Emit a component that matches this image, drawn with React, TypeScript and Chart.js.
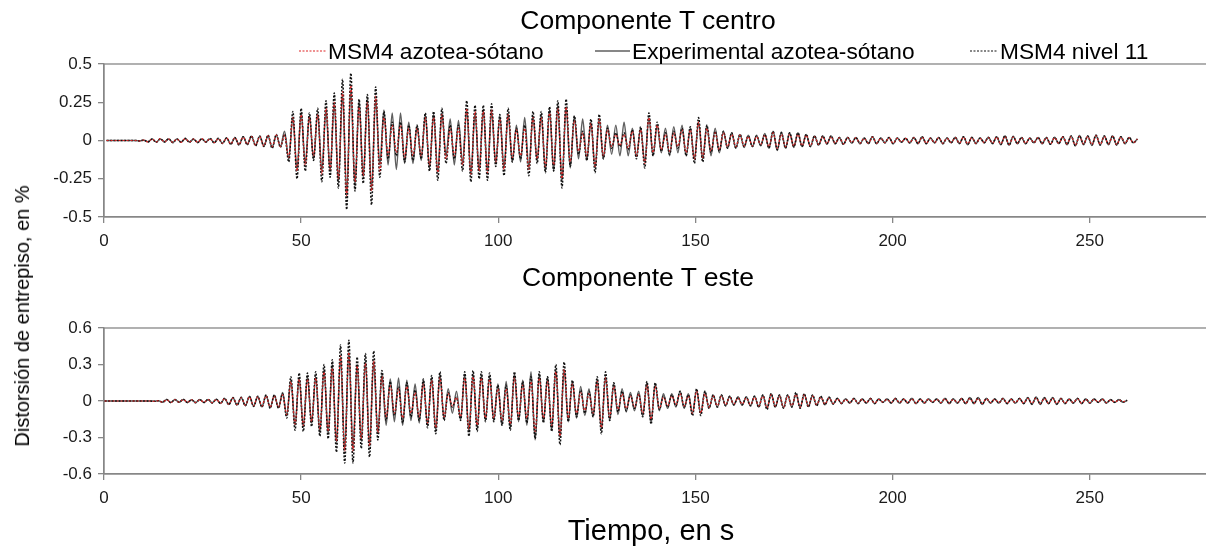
import React, { useEffect, useRef } from "react";
import { Chart, registerables } from "chart.js";

Chart.register(...registerables);

// ---------------- data ----------------
const SERIES_NAMES = ["MSM4 azotea-sótano", "Experimental azotea-sótano", "MSM4 nivel 11"];
const PANEL_TITLES = ["Componente T centro", "Componente T este"];
const X_TITLE = "Tiempo, en s";
const Y_TITLE = "Distorsión de entrepiso, en %";
const X_TICKS = [0, 50, 100, 150, 200, 250];
const TOP_Y_TICKS = [-0.5, -0.25, 0, 0.25, 0.5];
const BOTTOM_Y_TICKS = [-0.6, -0.3, 0, 0.3, 0.6];

// records are stored as successive extrema (half-cycle samples): start time and sample step, in s
const TOP_START_S = 0.65;
const BOTTOM_START_S = 0.15;
const SAMPLE_STEP_S = 1.05;

// ---- Componente T centro ----
const topMsm4Nivel11 = [
  0, 0, 0, 0, 0, 0, 0, 0, -0.003, 0.003,
  -0.01, 0.01, -0.012, 0.012, -0.01, 0.012, -0.014, 0.01, -0.012, 0.014, -0.012, 0.01, -0.014, 0.012, -0.01, 0.014, -0.016, 0.014,
  -0.02, 0.018, -0.025, 0.02, -0.03, 0.025, -0.028, 0.03, -0.035, 0.03, -0.04,
  0.035, -0.05, 0.04, -0.045, 0.04, -0.14, 0.19, -0.25, 0.21, -0.2, 0.18, -0.13, 0.21, -0.27, 0.26, -0.24, 0.31, -0.31, 0.4, -0.45, 0.44, -0.33, 0.27, -0.28, 0.3, -0.42, 0.35, -0.24,
  0.19, -0.12, 0.12, -0.1, 0.12, -0.14, 0.1, -0.13, 0.1, -0.12, 0.18, -0.2, 0.19, -0.26, 0.21, -0.15, 0.1, -0.12, 0.1, -0.2, 0.26, -0.27, 0.23, -0.25, 0.23, -0.26, 0.24, -0.17, 0.17, -0.23, 0.21, -0.14, 0.08,
  -0.12, 0.1, -0.23, 0.19, -0.15, 0.19, -0.21, 0.22, -0.2, 0.26, -0.31, 0.27, -0.17, 0.16, -0.09, 0.06, -0.13, 0.14, -0.21, 0.17,
  -0.12, 0.08, -0.05, 0.05, -0.04, 0.05, -0.06, 0.07, -0.12, 0.09, -0.18, 0.18, -0.1, 0.12, -0.07, 0.05, -0.09, 0.06, -0.05, 0.08,
  -0.1, 0.09, -0.15, 0.15, -0.14, 0.1, -0.08, 0.06, -0.07, 0.06, -0.05, 0.05, -0.05, 0.04, -0.04, 0.03, -0.04, 0.03, -0.03, 0.04,
  -0.05, 0.06, -0.06, 0.05, -0.05, 0.05, -0.04, 0.05, -0.04, 0.04, -0.04, 0.03, -0.03, 0.03, -0.02, 0.03,
  -0.02, 0.02, -0.025, 0.02, -0.015, 0.02, -0.02, 0.015, -0.02, 0.025, -0.02, 0.015, -0.015, 0.02, -0.02, 0.015, -0.01, 0.015, -0.015, 0.02,
  -0.02, 0.025, -0.02, 0.015, -0.015, 0.02, -0.02, 0.015, -0.015, 0.02, -0.02, 0.025, -0.025, 0.02, -0.02, 0.015, -0.015, 0.02, -0.02, 0.025,
  -0.025, 0.03, -0.03, 0.025, -0.02, 0.02, -0.02, 0.015, -0.015, 0.02, -0.02, 0.02, -0.025, 0.02, -0.02, 0.025, -0.025, 0.03, -0.035, 0.03,
  -0.025, 0.03, -0.03, 0.035, -0.03, 0.03, -0.025, 0.03, -0.03, 0.025, -0.02, 0.02, -0.015, 0.01,
];

const topMsm4Azotea = [
  0, 0, 0, 0, 0, 0, 0, 0, -0.003, 0.003,
  -0.01, 0.01, -0.01, 0.012, -0.01, 0.01, -0.012, 0.01, -0.012, 0.012, -0.01, 0.01, -0.012, 0.012, -0.01, 0.012, -0.014, 0.012,
  -0.018, 0.016, -0.022, 0.018, -0.026, 0.022, -0.025, 0.026, -0.03, 0.026, -0.035,
  0.03, -0.04, 0.035, -0.04, 0.035, -0.11, 0.15, -0.2, 0.17, -0.16, 0.15, -0.1, 0.17, -0.22, 0.21, -0.19, 0.25, -0.25, 0.32, -0.36, 0.36, -0.27, 0.22, -0.23, 0.25, -0.33, 0.29, -0.2,
  0.15, -0.1, 0.1, -0.08, 0.1, -0.11, 0.08, -0.1, 0.08, -0.1, 0.15, -0.16, 0.15, -0.21, 0.17, -0.12, 0.08, -0.1, 0.08, -0.16, 0.21, -0.22, 0.19, -0.2, 0.19, -0.21, 0.2, -0.14, 0.14, -0.19, 0.17, -0.11, 0.07,
  -0.1, 0.08, -0.19, 0.15, -0.12, 0.15, -0.17, 0.18, -0.16, 0.21, -0.25, 0.22, -0.14, 0.13, -0.07, 0.05, -0.1, 0.11, -0.17, 0.14,
  -0.1, 0.07, -0.04, 0.04, -0.035, 0.04, -0.05, 0.06, -0.1, 0.07, -0.15, 0.15, -0.08, 0.1, -0.06, 0.04, -0.07, 0.05, -0.04, 0.07,
  -0.08, 0.07, -0.12, 0.12, -0.11, 0.08, -0.07, 0.05, -0.06, 0.05, -0.04, 0.04, -0.04, 0.035, -0.035, 0.025, -0.035, 0.025, -0.025, 0.035,
  -0.04, 0.05, -0.05, 0.04, -0.04, 0.04, -0.035, 0.04, -0.035, 0.035, -0.035, 0.025, -0.025, 0.025, -0.02, 0.025,
  -0.018, 0.018, -0.022, 0.018, -0.014, 0.018, -0.018, 0.014, -0.018, 0.022, -0.018, 0.014, -0.014, 0.018, -0.018, 0.014, -0.01, 0.014, -0.014, 0.018,
  -0.018, 0.022, -0.018, 0.014, -0.014, 0.018, -0.018, 0.014, -0.014, 0.018, -0.018, 0.022, -0.022, 0.018, -0.018, 0.014, -0.014, 0.018, -0.018, 0.022,
  -0.022, 0.026, -0.026, 0.022, -0.018, 0.018, -0.018, 0.014, -0.014, 0.018, -0.018, 0.018, -0.022, 0.018, -0.018, 0.022, -0.022, 0.026, -0.03, 0.026,
  -0.022, 0.026, -0.026, 0.03, -0.026, 0.026, -0.022, 0.026, -0.026, 0.022, -0.018, 0.018, -0.014, 0.01,
];

const topExperimental = [
  0, 0, 0, 0, 0, 0, 0, 0, -0.002, 0.002,
  -0.008, 0.01, -0.01, 0.01, -0.008, 0.01, -0.012, 0.01, -0.01, 0.012, -0.01, 0.008, -0.012, 0.01, -0.01, 0.012, -0.014, 0.012,
  -0.018, 0.016, -0.024, 0.018, -0.028, 0.024, -0.026, 0.028, -0.032, 0.028, -0.036,
  0.03, -0.045, 0.035, -0.04, 0.06, -0.12, 0.15, -0.19, 0.18, -0.15, 0.16, -0.12, 0.18, -0.2, 0.2, -0.2, 0.24, -0.27, 0.3, -0.34, 0.33, -0.3, 0.26, -0.24, 0.27, -0.32, 0.27, -0.16,
  0.2, -0.16, 0.18, -0.19, 0.18, -0.15, 0.12, -0.15, 0.1, -0.13, 0.17, -0.18, 0.17, -0.21, 0.18, -0.1, 0.14, -0.16, 0.13, -0.15, 0.2, -0.22, 0.18, -0.2, 0.2, -0.2, 0.19, -0.15, 0.16, -0.18, 0.17, -0.14, 0.1,
  -0.14, 0.15, -0.18, 0.16, -0.13, 0.17, -0.2, 0.2, -0.2, 0.23, -0.27, 0.22, -0.18, 0.16, -0.12, 0.14, -0.13, 0.12, -0.18, 0.14,
  -0.12, 0.1, -0.09, 0.1, -0.1, 0.12, -0.1, 0.08, -0.1, 0.08, -0.14, 0.15, -0.1, 0.1, -0.08, 0.08, -0.1, 0.09, -0.08, 0.1,
  -0.1, 0.08, -0.12, 0.12, -0.12, 0.1, -0.1, 0.08, -0.08, 0.06, -0.05, 0.05, -0.05, 0.04, -0.045, 0.035, -0.04, 0.035, -0.035, 0.045,
  -0.05, 0.06, -0.065, 0.055, -0.05, 0.05, -0.045, 0.05, -0.04, 0.04, -0.04, 0.03, -0.03, 0.03, -0.025, 0.03,
  -0.022, 0.02, -0.025, 0.022, -0.018, 0.02, -0.022, 0.018, -0.02, 0.025, -0.022, 0.018, -0.015, 0.02, -0.022, 0.018, -0.012, 0.015, -0.018, 0.02,
  -0.022, 0.025, -0.022, 0.018, -0.015, 0.02, -0.022, 0.018, -0.015, 0.022, -0.02, 0.025, -0.028, 0.022, -0.02, 0.018, -0.015, 0.022, -0.02, 0.025,
  -0.028, 0.03, -0.03, 0.028, -0.022, 0.02, -0.022, 0.018, -0.015, 0.02, -0.022, 0.02, -0.025, 0.022, -0.02, 0.025, -0.028, 0.03, -0.035, 0.032,
  -0.028, 0.03, -0.032, 0.035, -0.03, 0.03, -0.028, 0.03, -0.03, 0.025, -0.022, 0.02, -0.015, 0.01,
];

// ---- Componente T este ----
const bottomMsm4Nivel11 = [
  0, 0, 0, 0, 0, 0, 0, 0, 0, 0, 0, 0, -0.003, 0.003,
  -0.01, 0.012, -0.014, 0.012, -0.01, 0.014, -0.012, 0.01, -0.014, 0.012, -0.012, 0.014, -0.016, 0.014,
  -0.02, 0.022, -0.03, 0.028, -0.035, 0.03, -0.04, 0.038, -0.045, 0.04, -0.05,
  0.05, -0.06, 0.05, -0.06, 0.06,
  -0.14, 0.2, -0.24, 0.23, -0.25, 0.23, -0.21, 0.24, -0.29, 0.3, -0.31, 0.34, -0.42, 0.46, -0.51, 0.5, -0.51, 0.36, -0.39, 0.39, -0.46, 0.41, -0.32, 0.25, -0.16, 0.16, -0.12, 0.12, -0.18, 0.15, -0.13,
  0.09, -0.16, 0.18, -0.22, 0.21, -0.27, 0.24, -0.16, 0.07, -0.05, 0.03, -0.16, 0.24, -0.29, 0.25, -0.25, 0.24, -0.17, 0.23, -0.17, 0.13,
  -0.2, 0.13, -0.24, 0.24, -0.16, 0.16, -0.18, 0.2, -0.31, 0.24,
  -0.18, 0.2, -0.25, 0.3, -0.36, 0.32, -0.17, 0.17, -0.13, 0.09,
  -0.1, 0.08, -0.13, 0.2, -0.27, 0.24, -0.16, 0.15, -0.09, 0.08,
  -0.08, 0.05, -0.06, 0.06, -0.13, 0.16, -0.19, 0.15, -0.07, 0.04,
  -0.05, 0.05, -0.04, 0.08, -0.05, 0.05, -0.12, 0.1, -0.12, 0.08,
  -0.06, 0.05, -0.05, 0.05, -0.04, 0.04, -0.03, 0.03, -0.03, 0.03,
  -0.04, 0.04, -0.05, 0.05, -0.07, 0.06, -0.05, 0.05, -0.06, 0.05,
  -0.05, 0.07, -0.06, 0.06, -0.05, 0.05, -0.04, 0.04,
  -0.03, 0.03, -0.025, 0.02, -0.02, 0.015, -0.015, 0.02, -0.02, 0.015,
  -0.015, 0.02, -0.02, 0.015, -0.01, 0.015, -0.015, 0.02, -0.015, 0.015,
  -0.015, 0.02, -0.02, 0.015, -0.015, 0.015, -0.01, 0.015, -0.015, 0.02,
  -0.02, 0.015, -0.015, 0.02, -0.02, 0.025, -0.02, 0.025, -0.025, 0.02,
  -0.015, 0.015, -0.015, 0.02, -0.02, 0.015, -0.015, 0.02, -0.02, 0.025,
  -0.025, 0.03, -0.025, 0.025, -0.02, 0.025, -0.025, 0.02, -0.02, 0.015,
  -0.015, 0.02, -0.02, 0.015, -0.015, 0.015, -0.01, 0.015, -0.015, 0.01,
  -0.01, 0.01, -0.008, 0.005,
];

const bottomMsm4Azotea = [
  0, 0, 0, 0, 0, 0, 0, 0, 0, 0, 0, 0, -0.003, 0.003,
  -0.01, 0.01, -0.012, 0.01, -0.01, 0.012, -0.01, 0.01, -0.012, 0.01, -0.01, 0.012, -0.014, 0.012,
  -0.018, 0.02, -0.026, 0.024, -0.03, 0.026, -0.034, 0.032, -0.038, 0.034, -0.042,
  0.042, -0.05, 0.042, -0.05, 0.05,
  -0.11, 0.16, -0.19, 0.18, -0.2, 0.18, -0.17, 0.19, -0.23, 0.24, -0.25, 0.27, -0.33, 0.37, -0.41, 0.4, -0.41, 0.29, -0.31, 0.31, -0.37, 0.33, -0.26, 0.2, -0.13, 0.13, -0.1, 0.1, -0.14, 0.12, -0.1,
  0.07, -0.13, 0.14, -0.18, 0.17, -0.22, 0.19, -0.13, 0.06, -0.04, 0.03, -0.13, 0.19, -0.23, 0.2, -0.2, 0.19, -0.14, 0.18, -0.14, 0.1,
  -0.16, 0.1, -0.19, 0.19, -0.13, 0.13, -0.14, 0.16, -0.25, 0.19,
  -0.14, 0.16, -0.2, 0.24, -0.29, 0.26, -0.14, 0.14, -0.1, 0.07,
  -0.08, 0.06, -0.1, 0.16, -0.22, 0.19, -0.13, 0.12, -0.07, 0.06,
  -0.06, 0.04, -0.05, 0.05, -0.1, 0.13, -0.15, 0.12, -0.06, 0.03,
  -0.04, 0.04, -0.03, 0.06, -0.04, 0.04, -0.1, 0.08, -0.1, 0.06,
  -0.05, 0.04, -0.04, 0.04, -0.03, 0.03, -0.025, 0.025, -0.025, 0.025,
  -0.03, 0.03, -0.04, 0.04, -0.055, 0.05, -0.04, 0.04, -0.05, 0.04,
  -0.04, 0.055, -0.05, 0.05, -0.04, 0.04, -0.03, 0.03,
  -0.025, 0.025, -0.02, 0.018, -0.018, 0.013, -0.013, 0.018, -0.018, 0.013,
  -0.013, 0.018, -0.018, 0.013, -0.008, 0.013, -0.013, 0.018, -0.013, 0.013,
  -0.013, 0.018, -0.018, 0.013, -0.013, 0.013, -0.008, 0.013, -0.013, 0.018,
  -0.018, 0.013, -0.013, 0.018, -0.018, 0.02, -0.018, 0.02, -0.02, 0.018,
  -0.013, 0.013, -0.013, 0.018, -0.018, 0.013, -0.013, 0.018, -0.018, 0.02,
  -0.02, 0.025, -0.02, 0.02, -0.018, 0.02, -0.02, 0.018, -0.018, 0.013,
  -0.013, 0.018, -0.018, 0.013, -0.013, 0.013, -0.008, 0.013, -0.013, 0.008,
  -0.008, 0.008, -0.006, 0.004,
];

const bottomExperimental = [
  0, 0, 0, 0, 0, 0, 0, 0, 0, 0, 0, 0, -0.002, 0.002,
  -0.01, 0.012, -0.012, 0.012, -0.01, 0.012, -0.012, 0.01, -0.012, 0.012, -0.012, 0.012, -0.015, 0.014,
  -0.02, 0.02, -0.028, 0.026, -0.032, 0.028, -0.038, 0.036, -0.042, 0.038, -0.048,
  0.048, -0.055, 0.048, -0.055, 0.07,
  -0.12, 0.17, -0.2, 0.19, -0.21, 0.2, -0.18, 0.2, -0.26, 0.26, -0.27, 0.3, -0.34, 0.36, -0.4, 0.4, -0.38, 0.3, -0.33, 0.33, -0.36, 0.32, -0.26, 0.22, -0.2, 0.18, -0.17, 0.19, -0.2, 0.17, -0.16,
  0.14, -0.18, 0.17, -0.2, 0.19, -0.24, 0.22, -0.15, 0.1, -0.1, 0.08, -0.15, 0.22, -0.25, 0.22, -0.22, 0.21, -0.16, 0.2, -0.16, 0.14,
  -0.2, 0.16, -0.22, 0.22, -0.17, 0.17, -0.2, 0.24, -0.32, 0.22,
  -0.17, 0.2, -0.24, 0.26, -0.3, 0.26, -0.17, 0.16, -0.14, 0.12,
  -0.12, 0.1, -0.13, 0.18, -0.23, 0.2, -0.16, 0.14, -0.11, 0.1,
  -0.09, 0.07, -0.08, 0.08, -0.12, 0.15, -0.17, 0.14, -0.08, 0.06,
  -0.06, 0.06, -0.05, 0.08, -0.06, 0.06, -0.1, 0.09, -0.1, 0.08,
  -0.06, 0.05, -0.05, 0.05, -0.04, 0.04, -0.035, 0.035, -0.035, 0.035,
  -0.04, 0.04, -0.05, 0.05, -0.06, 0.06, -0.05, 0.05, -0.055, 0.05,
  -0.05, 0.06, -0.055, 0.055, -0.045, 0.045, -0.035, 0.035,
  -0.03, 0.03, -0.025, 0.022, -0.022, 0.018, -0.018, 0.022, -0.022, 0.018,
  -0.018, 0.022, -0.022, 0.018, -0.012, 0.018, -0.018, 0.022, -0.018, 0.018,
  -0.018, 0.022, -0.022, 0.018, -0.018, 0.018, -0.012, 0.018, -0.018, 0.022,
  -0.022, 0.018, -0.018, 0.022, -0.022, 0.028, -0.022, 0.028, -0.028, 0.022,
  -0.018, 0.018, -0.018, 0.022, -0.022, 0.018, -0.018, 0.022, -0.022, 0.028,
  -0.028, 0.032, -0.028, 0.028, -0.022, 0.028, -0.028, 0.022, -0.022, 0.018,
  -0.018, 0.022, -0.022, 0.018, -0.018, 0.018, -0.012, 0.018, -0.018, 0.012,
  -0.012, 0.012, -0.01, 0.006,
];

// ---------------- styles ----------------
const FONT = "'Liberation Sans', Arial, sans-serif";
const AXIS_GRAY = "#878787";
const RED = "rgb(222, 36, 36)";
const EXP_GRAY = "#5f5f5f";
const BLACK = "#111111";

const toPoints = (vals: number[], start: number) =>
  vals.map((y, i) => ({ x: start + i * SAMPLE_STEP_S, y }));

const framePlugin = {
  id: "frame",
  beforeDatasetsDraw(chart: any) {
    const { ctx, chartArea: a } = chart;
    ctx.save();
    ctx.strokeStyle = AXIS_GRAY;
    ctx.lineWidth = 1.3;
    ctx.strokeRect(a.left, a.top, a.right - a.left, a.bottom - a.top);
    ctx.restore();
  },
};

function buildConfig(
  red: number[],
  exp: number[],
  black: number[],
  start: number,
  yTicks: number[],
  padding: any,
  xHeight: number
): any {
  const yMin = yTicks[0];
  const yMax = yTicks[yTicks.length - 1];
  return {
    type: "line",
    data: {
      datasets: [
        {
          label: SERIES_NAMES[0],
          data: toPoints(red, start),
          borderColor: RED,
          borderWidth: 1.1,
          borderDash: [2, 2],
          pointRadius: 0,
          cubicInterpolationMode: "monotone",
          fill: false,
        },
        {
          label: SERIES_NAMES[2],
          data: toPoints(black, start),
          borderColor: BLACK,
          borderWidth: 1.5,
          borderDash: [2, 1.5],
          pointRadius: 0,
          cubicInterpolationMode: "monotone",
          fill: false,
        },
        {
          label: SERIES_NAMES[1],
          data: toPoints(exp, start),
          borderColor: EXP_GRAY,
          borderWidth: 1.5,
          pointRadius: 0,
          cubicInterpolationMode: "monotone",
          fill: false,
        },
      ],
    },
    options: {
      responsive: false,
      animation: false,
      events: [],
      layout: { padding },
      plugins: {
        legend: { display: false },
        tooltip: { enabled: false },
        title: { display: false },
      },
      scales: {
        x: {
          type: "linear",
          min: 0,
          max: 280,
          afterBuildTicks: (scale: any) => {
            scale.ticks = X_TICKS.map((v) => ({ value: v }));
          },
          afterFit: (scale: any) => {
            scale.height = xHeight;
          },
          grid: {
            drawOnChartArea: false,
            drawTicks: true,
            tickLength: 6,
            color: AXIS_GRAY,
            lineWidth: 1.3,
          },
          border: { display: true, color: AXIS_GRAY, width: 1.3 },
          ticks: {
            padding: 8,
            color: "#1a1a1a",
            font: { family: FONT, size: 17 },
            maxRotation: 0,
            autoSkip: false,
            callback: (v: any) => String(v),
          },
        },
        y: {
          type: "linear",
          min: yMin,
          max: yMax,
          afterBuildTicks: (scale: any) => {
            scale.ticks = yTicks.map((v) => ({ value: v }));
          },
          afterFit: (scale: any) => {
            scale.width = 104;
          },
          grid: {
            drawOnChartArea: false,
            drawTicks: true,
            tickLength: 6,
            color: AXIS_GRAY,
            lineWidth: 1.3,
          },
          border: { display: true, color: AXIS_GRAY, width: 1.3 },
          ticks: {
            padding: 6,
            color: "#1a1a1a",
            font: { family: FONT, size: 17 },
            autoSkip: false,
            callback: (v: any) => String(v),
          },
        },
      },
    },
    plugins: [framePlugin],
  };
}

const CANVAS_W = 1240;

function Panel(props: {
  top: number;
  height: number;
  red: number[];
  exp: number[];
  black: number[];
  start: number;
  yTicks: number[];
  padding: any;
  xHeight: number;
}) {
  const ref = useRef<HTMLCanvasElement | null>(null);
  useEffect(() => {
    if (!ref.current) return;
    const chart = new Chart(
      ref.current,
      buildConfig(props.red, props.exp, props.black, props.start, props.yTicks, props.padding, props.xHeight)
    );
    return () => chart.destroy();
  }, []);
  return (
    <canvas
      ref={ref}
      width={CANVAS_W}
      height={props.height}
      style={{ position: "absolute", left: 0, top: props.top, width: CANVAS_W, height: props.height }}
    />
  );
}

function LegendItem(props: { x: number; lineW: number; textX: number; color: string; dash?: string; width: number; label: string }) {
  return (
    <>
      <svg
        width={props.lineW}
        height={6}
        style={{ position: "absolute", left: props.x, top: 48 }}
      >
        <line
          x1={0}
          y1={3}
          x2={props.lineW}
          y2={3}
          stroke={props.color}
          strokeWidth={props.width}
          strokeDasharray={props.dash}
        />
      </svg>
      <div
        style={{
          position: "absolute",
          left: props.textX,
          top: 51,
          transform: "translateY(-50%)",
          fontSize: 22.7,
          lineHeight: "23px",
          whiteSpace: "nowrap",
          color: "#000",
        }}
      >
        {props.label}
      </div>
    </>
  );
}

const centered = (x: number, y: number, size: number): React.CSSProperties => ({
  position: "absolute",
  left: x,
  top: y,
  transform: "translate(-50%, -50%)",
  fontSize: size,
  lineHeight: `${size}px`,
  whiteSpace: "nowrap",
  color: "#000",
});

export default function App() {
  return (
    <div
      style={{
        position: "fixed",
        left: 0,
        top: 0,
        width: 1206,
        height: 548,
        overflow: "hidden",
        background: "#fff",
        fontFamily: FONT,
      }}
    >
      <Panel
        top={0}
        height={260}
        red={topMsm4Azotea}
        exp={topExperimental}
        black={topMsm4Nivel11}
        start={TOP_START_S}
        yTicks={TOP_Y_TICKS}
        padding={{ top: 64, left: 0, right: 32, bottom: 0 }}
        xHeight={43}
      />
      <Panel
        top={260}
        height={288}
        red={bottomMsm4Azotea}
        exp={bottomExperimental}
        black={bottomMsm4Nivel11}
        start={BOTTOM_START_S}
        yTicks={BOTTOM_Y_TICKS}
        padding={{ top: 68, left: 0, right: 32, bottom: 31 }}
        xHeight={43}
      />
      <div style={centered(648, 20, 26.5)}>{PANEL_TITLES[0]}</div>
      <div style={centered(638, 277, 26.5)}>{PANEL_TITLES[1]}</div>
      <div style={centered(651, 530, 29)}>{X_TITLE}</div>
      <div
        style={{
          ...centered(22, 316, 20),
          transform: "translate(-50%, -50%) rotate(-90deg)",
        }}
      >
        {Y_TITLE}
      </div>
      <LegendItem x={299} lineW={27} textX={328} color={RED} dash="2 1.5" width={1.2} label={SERIES_NAMES[0]} />
      <LegendItem x={595} lineW={35} textX={632} color={EXP_GRAY} width={1.3} label={SERIES_NAMES[1]} />
      <LegendItem x={970} lineW={27} textX={1000} color={BLACK} dash="2 1.5" width={1.2} label={SERIES_NAMES[2]} />
    </div>
  );
}
